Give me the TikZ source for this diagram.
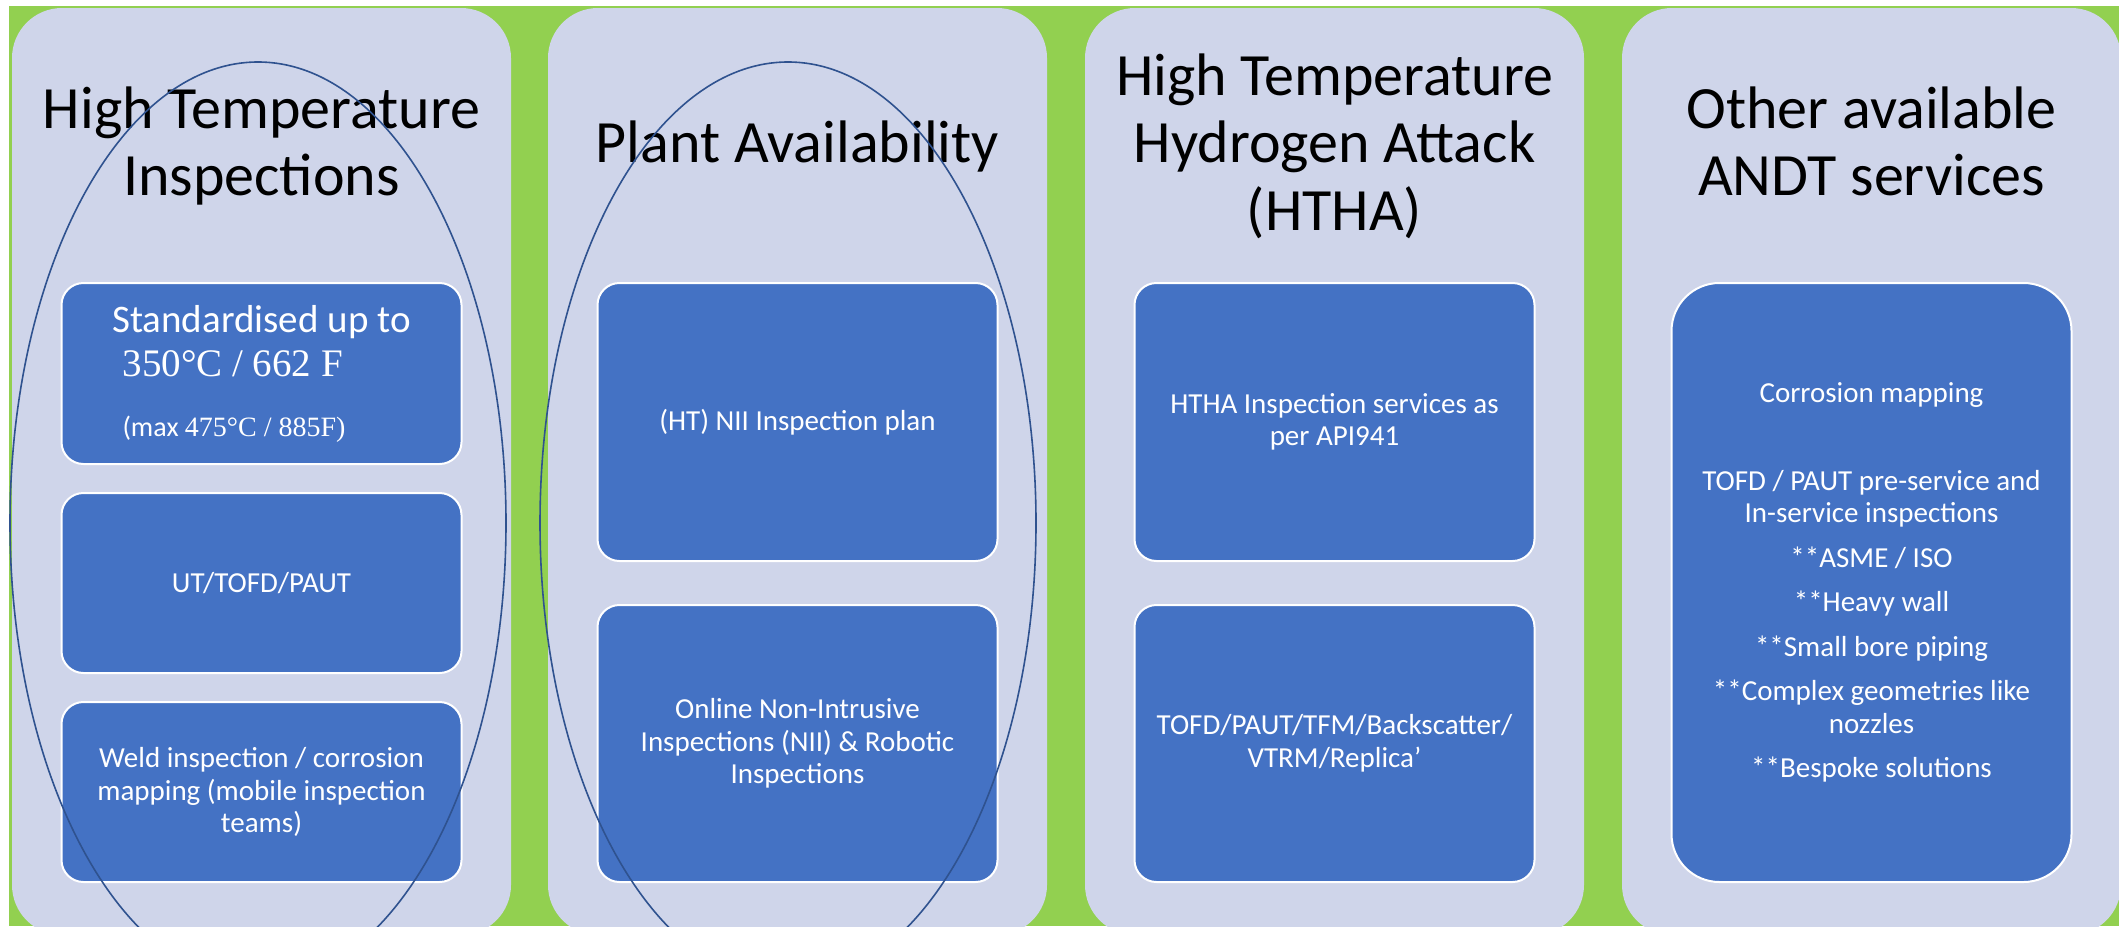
\documentclass[tikz,border=0pt]{standalone}
\usepackage{fontspec}
\setmainfont{Carlito}
\newfontfamily\tnr{Liberation Serif}
\definecolor{bggreen}{HTML}{92D050}
\definecolor{panelc}{HTML}{CFD5EA}
\definecolor{boxc}{HTML}{4472C4}
\definecolor{ellc}{HTML}{2F528F}
\newcommand\stacklines[1]{\vtop{\halign{\hfil##\hfil\cr#1\crcr}}}
\tikzset{
  panelbox/.style={fill=panelc, rounded corners=50pt},
  svcbox/.style={draw=white, line width=2pt, fill=boxc, rounded corners=22pt,
    minimum width=400pt, text=white, font=\fontsize{29}{32.5}\selectfont,
    align=center, inner sep=0pt, outer sep=0pt},
  ttl/.style={font=\fontsize{60}{67.5}\selectfont, anchor=base, inner sep=0pt, text=black},
  ring/.style={draw=ellc, line width=1.6pt},
}
\begin{document}
\begin{tikzpicture}[x=1pt,y=-1pt]
\useasboundingbox (0,0) rectangle (2119,926);
\clip (0,0) rectangle (2119,926);
\fill[white] (0,0) rectangle (2119,926);
\fill[bggreen] (9,6) rectangle (2119,926);
\foreach \px in {12,548,1085,1622} \fill[panelbox] (\px,8) rectangle ({\px+499},935);

% titles
\node[ttl] (t1) at (261.5,128) {\stacklines{High Temperature\cr Inspections}};
\node[ttl] (t2) at (797.5,162) {Plant Availability};
\node[ttl] (t3) at (1334.5,95) {\stacklines{High Temperature\cr Hydrogen Attack\cr (HTHA)}};
\node[ttl] (t4) at (1871.5,128) {\stacklines{Other available\cr ANDT services}};

% column 1
\node[svcbox, minimum height=181pt] (a1) at (261.5,373.5) {\vbox{\hsize=400pt
  \baselineskip=44pt
  \hbox to 400pt{\hfil\fontsize{39}{44}\selectfont Standardised up to\hfil}
  \hbox to 400pt{\hskip61pt\tnr\fontsize{39}{44}\selectfont 350°C / 662 F\hfil}
  \baselineskip=60pt
  \hbox to 400pt{\hskip61pt\fontsize{28}{32}\selectfont (max {\tnr 475°C / 885F)}\hfil}}};
\node[svcbox, minimum height=180pt] (a2) at (261.5,583) {UT/TOFD/PAUT};
\node[svcbox, minimum height=180pt] (a3) at (261.5,792) {Weld inspection / corrosion\\mapping (mobile inspection\\teams)};

% column 2
\node[svcbox, minimum height=278pt] (b1) at (797.5,422) {(HT) NII Inspection plan};
\node[svcbox, minimum height=277pt] (b2) at (797.5,743.5) {Online Non-Intrusive\\Inspections (NII) \& Robotic\\Inspections};

% column 3
\node[svcbox, minimum height=278pt] (c1) at (1334.5,422) {HTHA Inspection services as\\per API941};
\node[svcbox, minimum height=277pt] (c2) at (1334.5,743.5) {TOFD/PAUT/TFM/Backscatter/\\VTRM/Replica’};

% column 4
\node[svcbox, minimum height=599pt, rounded corners=48pt] (d1) at (1871.5,582.5)
  {Corrosion mapping\\[55.5pt]TOFD / PAUT pre-service and\\In-service inspections\\[12pt]{}**ASME / ISO\\[12pt]{}**Heavy wall\\[12pt]{}**Small bore piping\\[12pt]{}**Complex geometries like\\nozzles\\[12pt]{}**Bespoke solutions};

% ellipses
\draw[ring] (258,523) ellipse [x radius=248pt, y radius=461pt];
\draw[ring] (788,523) ellipse [x radius=248pt, y radius=461pt];
\end{tikzpicture}
\end{document}
